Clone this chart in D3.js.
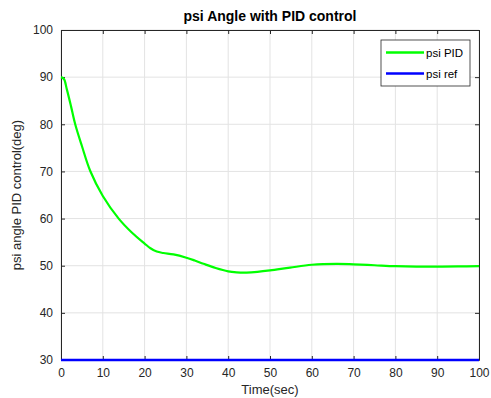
<!DOCTYPE html>
<html>
<head>
<meta charset="utf-8">
<script src="https://cdn.jsdelivr.net/npm/d3@7"></script>
<style>
  body { margin: 0; background: #fff; }
  text { font-family: "Liberation Sans", Arial, sans-serif; }
</style>
</head>
<body>
<svg id="viz"></svg>
<script>
var width = 491;
var height = 398;

// values
var timeSec = [0, 0.7, 1.4, 2.4, 3.4, 5, 7, 10, 13.8, 17, 20, 21.4, 22.9, 24.5, 26.9, 30, 32, 34.1, 37, 40, 42, 44.4, 47, 50, 54.8, 60, 65.9, 70, 75, 80, 85, 90, 95, 100];
var psiPid  = [90, 89.6, 87.4, 83.8, 80, 75.4, 70.1, 64.8, 60, 57, 54.7, 53.7, 53, 52.7, 52.4, 51.7, 51.1, 50.4, 49.5, 48.8, 48.6, 48.55, 48.7, 49.0, 49.6, 50.2, 50.4, 50.3, 50.1, 49.9, 49.8, 49.8, 49.85, 49.9];
var psiRef  = [30, 30];
var refTime = [0, 100];
var xTicks = d3.range(0, 101, 10);
var yTicks = d3.range(30, 101, 10);

var margin = {left: 61, right: 12, top: 30, bottom: 38};

var svg = d3.select("#viz").attr("width", width).attr("height", height);

var x = d3.scaleLinear().domain([0, 100]).range([margin.left, width - margin.right]);
var y = d3.scaleLinear().domain([30, 100]).range([height - margin.bottom, margin.top]);

// grid
svg.append("g")
    .attr("stroke", "#e3e3e3")
    .attr("stroke-width", 1)
  .selectAll("line.gx")
  .data(xTicks)
  .enter().append("line")
    .attr("x1", function (d) { return x(d); })
    .attr("x2", function (d) { return x(d); })
    .attr("y1", y(30))
    .attr("y2", y(100));

svg.append("g")
    .attr("stroke", "#e3e3e3")
    .attr("stroke-width", 1)
  .selectAll("line.gy")
  .data(yTicks)
  .enter().append("line")
    .attr("x1", x(0))
    .attr("x2", x(100))
    .attr("y1", function (d) { return y(d); })
    .attr("y2", function (d) { return y(d); });

// axes (ticks pointing inward)
function styleAxis(g) {
    g.select(".domain").attr("stroke", "#262626");
    g.selectAll(".tick line").attr("stroke", "#262626");
    g.selectAll(".tick text").attr("fill", "#262626").attr("font-size", 12);
}

svg.append("g")
    .attr("transform", "translate(0," + y(30) + ")")
    .call(d3.axisBottom(x).tickValues(xTicks).tickSizeInner(-4).tickSizeOuter(0).tickPadding(8))
    .call(styleAxis);

svg.append("g")
    .attr("transform", "translate(0," + y(100) + ")")
    .call(d3.axisTop(x).tickValues(xTicks).tickSizeInner(-4).tickSizeOuter(0).tickFormat(""))
    .call(styleAxis);

svg.append("g")
    .attr("transform", "translate(" + x(0) + ",0)")
    .call(d3.axisLeft(y).tickValues(yTicks).tickSizeInner(-4).tickSizeOuter(0).tickPadding(8))
    .call(styleAxis);

svg.append("g")
    .attr("transform", "translate(" + x(100) + ",0)")
    .call(d3.axisRight(y).tickValues(yTicks).tickSizeInner(-4).tickSizeOuter(0).tickFormat(""))
    .call(styleAxis);

// lines
var line = d3.line()
    .x(function (d) { return x(d[0]); })
    .y(function (d) { return y(d[1]); })
    .curve(d3.curveCatmullRom);

svg.append("path")
    .datum(d3.zip(refTime, psiRef))
    .attr("fill", "none")
    .attr("stroke", "#0000ff")
    .attr("stroke-width", 2.5)
    .attr("d", line);

svg.append("path")
    .datum(d3.zip(timeSec, psiPid))
    .attr("fill", "none")
    .attr("stroke", "#00ff00")
    .attr("stroke-width", 2.2)
    .attr("d", line);

// titles
svg.append("text")
    .attr("x", (x(0) + x(100)) / 2)
    .attr("y", 21)
    .attr("text-anchor", "middle")
    .attr("font-size", 14)
    .attr("font-weight", "bold")
    .attr("fill", "#000")
    .text("psi Angle with PID control");

svg.append("text")
    .attr("x", (x(0) + x(100)) / 2)
    .attr("y", 394)
    .attr("text-anchor", "middle")
    .attr("font-size", 13)
    .attr("fill", "#262626")
    .text("Time(sec)");

svg.append("text")
    .attr("transform", "translate(21," + (y(30) + y(100)) / 2 + ") rotate(-90)")
    .attr("text-anchor", "middle")
    .attr("font-size", 13)
    .attr("fill", "#262626")
    .text("psi angle PID control(deg)");

// legend
var legend = svg.append("g").attr("transform", "translate(381,40)");
legend.append("rect")
    .attr("width", 89).attr("height", 46)
    .attr("fill", "#fff").attr("stroke", "#262626").attr("stroke-width", 0.8);
var legendItems = [{name: "psi PID", color: "#00ff00"}, {name: "psi ref", color: "#0000ff"}];
legendItems.forEach(function (d, i) {
    legend.append("line")
        .attr("x1", 5).attr("x2", 43)
        .attr("y1", 12.5 + i * 21).attr("y2", 12.5 + i * 21)
        .attr("stroke", d.color).attr("stroke-width", 2.5);
    legend.append("text")
        .attr("x", 45).attr("y", 16.5 + i * 21)
        .attr("font-size", 11.5)
        .attr("fill", "#000")
        .text(d.name);
});
</script>
</body>
</html>
